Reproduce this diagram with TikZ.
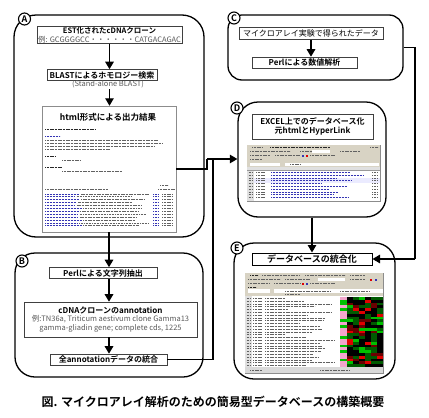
\documentclass[tikz,border=0pt]{standalone}
\usepackage{fontspec}
\setmainfont{Noto Sans CJK JP}[BoldFont={Noto Sans CJK JP Bold}]
\usetikzlibrary{arrows.meta}
\definecolor{txtgray}{HTML}{5A5A5A}
\definecolor{lnkblue}{HTML}{3434B4}
\definecolor{beige}{HTML}{D8D3C4}
\definecolor{hmdg}{HTML}{005A00}
\definecolor{hmg}{HTML}{00C000}
\definecolor{hmr}{HTML}{E00000}
\definecolor{hmdr}{HTML}{6A0000}
\definecolor{hmpink}{HTML}{F2A6CC}
\begin{document}
\begin{tikzpicture}[x=1pt,y=-1pt,
  outer/.style={draw, line width=1.3pt, inner sep=0pt},
  ibox/.style={draw=black!75, line width=0.6pt, fill=white, inner sep=0.5pt, align=center},
  shot/.style={draw=black!45, line width=0.5pt, fill=white, inner sep=0pt},
  lab/.style={circle, draw, line width=1.1pt, fill=white, inner sep=0pt, minimum size=12pt, font=\bfseries\fontsize{9}{9}\selectfont},
  conn/.style={line width=1.3pt},
  arr/.style={line width=1.3pt, -{Triangle[length=7.5pt,width=8.5pt]}},
  fk/.style={line width=1pt, black!62, dash pattern=on 1.1pt off 0.5pt},
  fkb/.style={line width=1pt, lnkblue, dash pattern=on 1.1pt off 0.4pt},
  fkd/.style={line width=1pt, black!85, dash pattern=on 1.1pt off 0.5pt},
  hd/.style={font=\bfseries\fontsize{8}{9.5}\selectfont},
  sm/.style={font=\fontsize{7.5}{8.8}\selectfont}
]
\useasboundingbox (0,0) rectangle (429,418);
\fill[white] (0,0) rectangle (429,418);

% ---------------- outer boxes ----------------
\node[outer, rounded corners=22pt, minimum width=190pt, minimum height=222pt] (A) at (109,126) {};
\node[outer, rounded corners=20pt, minimum width=188pt, minimum height=124pt] (B) at (109,315) {};
\node[outer, rounded corners=14pt, minimum width=175pt, minimum height=65pt] (C) at (315.5,47.5) {};
\node[outer, rounded corners=20pt, minimum width=148pt, minimum height=115pt] (D) at (312,159.5) {};
\node[outer, rounded corners=20pt, minimum width=161pt, minimum height=136pt] (E) at (314.5,311) {};

% ---------------- A ----------------
\node[ibox, sm, minimum width=145pt, minimum height=16pt] (a1) at (109.5,35)
  {\textbf{EST化されたcDNAクローン}\\\textcolor{txtgray}{例: GCGGGGCC・・・・・・CATGACAGAC}};
\node[ibox, hd, minimum width=110pt, minimum height=11pt] (a2) at (102,75) {BLASTによるホモロジー検索};
\node[sm, text=txtgray, inner sep=0.5pt] (a2s) at (108,84.5) {(Stand-alone BLAST)};
\node[shot, minimum width=134pt, minimum height=126pt] (a3) at (109,169) {};
\node[font=\bfseries\fontsize{8.5}{9}\selectfont, inner sep=0pt] (a3t) at (108,117) {html形式による出力結果};
% fake html text
\draw[fkd] (45,129) -- (95,129);
\draw[fkb] (45,136.5) -- (60,136.5);
\draw[fk] (45,140) -- (158,140);
\draw[fk] (45,143) -- (162,143);
\draw[fk] (45,146) -- (155,146);
\draw[fk] (45,149) -- (110,149);
\draw[fkd] (45,156.5) -- (55,156.5);
\draw[fk] (62,160) -- (80,160);
\draw[fkd] (45,167.5) -- (62,167.5);
\draw[fk] (62,171) -- (122,171);
\draw[fk] (160,185.5) -- (168,185.5);
\draw[fk] (45,189) -- (108,189);
\draw[fk] (158,189) -- (175,189);
\pgfmathsetseed{5}
\foreach \k in {0,...,11}{
  \pgfmathsetmacro{\yy}{194+\k*2.9}
  \pgfmathsetmacro{\lb}{74+rnd*10}
  \pgfmathsetmacro{\lg}{130+rnd*20}
  \draw[fkb] (45,\yy) -- (\lb,\yy);
  \draw[fk] (\lb+2,\yy) -- (\lg,\yy);
  \draw[fkb] (153,\yy) -- (158,\yy);
  \draw[fk] (162,\yy) -- (172,\yy);
}

% ---------------- B ----------------
\node[ibox, hd, minimum width=108pt, minimum height=11pt] (b1) at (103,273) {Perlによる文字列抽出};
\node[ibox, sm, minimum width=173pt, minimum height=35pt] (b2) at (110.5,319.5)
  {\textbf{\fontsize{8}{9.5}\selectfont cDNAクローンのannotation}\\\textcolor{txtgray}{例:TN36a, Triticum aestivum clone Gamma13}\\\textcolor{txtgray}{gamma-gliadin gene; complete cds, 1225}};
\node[ibox, hd, minimum width=117pt, minimum height=11pt] (b3) at (108.5,359.5) {全annotationデータの統合};

% ---------------- C ----------------
\node[ibox, font=\fontsize{8}{9.5}\selectfont, minimum width=144pt, minimum height=12pt] (c1) at (311,33.5) {マイクロアレイ実験で得られたデータ};
\node[ibox, hd, minimum width=105pt, minimum height=11pt] (c2) at (304.5,62.5) {Perlによる数値解析};

% ---------------- D ----------------
\node[ibox, hd, minimum width=121pt, minimum height=25pt] (d1) at (312.5,126.5) {EXCEL上でのデータベース化\\元htmlとHyperLink};
\node[shot, minimum width=133pt, minimum height=56pt] (d2) at (313.5,173) {};
\fill[beige] (247.3,145.3) rectangle (379.7,167);
\draw[fk] (252,147.5) -- (262,147.5);
\draw[fkd] (270,147.5) -- (330,147.5);
\draw[fk] (370,147.5) -- (378,147.5);
\draw[fk] (250,151.5) -- (290,151.5);
\draw[fk] (300,151.5) -- (312,151.5);
\fill[white] (312,150.3) rectangle (330,152.7);
\draw[fk] (340,151.5) -- (360,151.5);
\draw[fk] (250,155.5) -- (270,155.5);
\draw[fk] (275,155.5) -- (300,155.5);
\fill[lnkblue] (302,154.5) rectangle ++(2,2);
\fill[hmr] (306,154.5) rectangle ++(2,2);
\draw[fk] (310,155.5) -- (335,155.5);
\draw[fk] (250,159.5) -- (262,159.5);
\fill[white] (250,162.5) rectangle (280,166);
\fill[white] (285,162.5) rectangle (379,166);
\draw[fk] (290,164.2) -- (300,164.2);
\fill[black!12] (247.3,167) rectangle (379.7,170);
\fill[black!12] (247.3,167) rectangle (253.5,200.7);
\fill[blue!8] (253.5,177.6) rectangle (379.7,183);
\draw[black!40, line width=0.3pt] (247.3,170) -- (379.7,170);
\pgfmathsetseed{11}
\foreach \k in {0,...,9}{
  \pgfmathsetmacro{\yy}{172.5+\k*2.8}
  \pgfmathsetmacro{\lb}{320+rnd*45}
  \draw[fk] (248.5,\yy) -- (252.5,\yy);
  \draw[fk] (256,\yy) -- (265,\yy);
  \draw[fkb] (271,\yy) -- (\lb,\yy);
  \draw[fk] (372,\yy) -- (378,\yy);
}

% ---------------- E ----------------
\node[ibox, draw=black, line width=1pt, font=\bfseries\fontsize{9}{10}\selectfont, minimum width=120pt, minimum height=12pt] (e1) at (312,259) {データベースの統合化};
\node[shot, minimum width=138pt, minimum height=100pt] (e2) at (314,323) {};
\fill[beige] (245.3,273.3) rectangle (382.7,296);
\draw[fkd] (250,275.5) -- (258,275.5);
\draw[fk] (262,275.5) -- (300,275.5);
\draw[fk] (305,275.5) -- (345,275.5);
\draw[fk] (350,275.5) -- (365,275.5);
\draw[fk] (248,279.5) -- (280,279.5);
\draw[fk] (285,279.5) -- (310,279.5);
\fill[white] (318,278.3) rectangle (345,280.7);
\draw[fk] (350,279.5) -- (365,279.5);
\fill[hmr] (370,278.5) rectangle ++(2,2);
\fill[lnkblue] (375,278.5) rectangle ++(2,2);
\draw[fk] (248,283.5) -- (270,283.5);
\draw[fk] (274,283.5) -- (300,283.5);
\fill[hmr] (302,282.5) rectangle ++(2,2);
\fill[lnkblue] (306,282.5) rectangle ++(2,2);
\draw[fk] (310,283.5) -- (335,283.5);
\draw[fkd] (248,287) -- (256,287);
\fill[white] (248,289) rectangle (270,293);
\fill[white] (274,289) rectangle (382.7,293);
\draw[fk] (285,291) -- (330,291);
\draw[fk] (340,291) -- (370,291);
\draw[fk] (285,294.5) -- (300,294.5);
\fill[black!12] (245.3,296) rectangle (251.5,369.5);
\pgfmathsetseed{23}
\foreach \k in {0,...,24}{
  \pgfmathsetmacro{\yy}{298.5+\k*2.8}
  \pgfmathsetmacro{\lb}{285+rnd*50}
  \draw[fk] (246.5,\yy) -- (250.5,\yy);
  \draw[fk] (253,\yy) -- (262,\yy);
  \draw[fk] (265,\yy) -- (\lb,\yy);
}
% pink column and heat map
\fill[hmpink] (340,297) rectangle (347,367);
\pgfmathsetseed{12}
\foreach \i in {0,...,24}{
  \pgfmathrandominteger{\rv}{1}{10}
  \ifnum\rv>8 \fill[hmg] (340,{297+2.8*\i}) rectangle ++(7,2.8);\fi
  \foreach \j in {0,...,5}{
    \pgfmathrandominteger{\rv}{1}{10}
    \ifcase\rv\or\def\hc{black}\or\def\hc{black}\or\def\hc{black}\or\def\hc{black}\or\def\hc{hmdg}\or\def\hc{hmdg}\or\def\hc{hmdg}\or\def\hc{hmg}\or\def\hc{hmr}\or\def\hc{hmdr}\fi
    \fill[\hc] ({347+6*\j},{297+2.8*\i}) rectangle ++(6,2.8);
  }
}
\fill[black!15] (245.3,367) rectangle (382.7,372.7);
\draw[fk] (250,370) -- (262,370);
\draw[fk] (320,370) -- (350,370);

% ---------------- labels ----------------
\node[lab] (la) at (24.5,19) {A};
\node[lab] (lb) at (22,261) {B};
\node[lab] (lc) at (234,18) {C};
\node[lab] (ld) at (237,108) {D};
\node[lab] (le) at (237,248) {E};

% ---------------- connectors ----------------
\coordinate (j1) at (207,159);
\coordinate (j2) at (213,159);
\coordinate (j3) at (415,259);
\draw[arr] (a1.south) -- (a1.south |- a2.north);
\draw[arr] (a1.south |- a2s.south) -- (a1.south |- a3.north);
\draw[arr] (a3.south) -- (a3.south |- b1.north);
\draw[arr] (a3.south |- b1.south) -- (a3.south |- b2.north);
\draw[arr] (a3.south |- b2.south) -- (a3.south |- b3.north);
\draw[arr] (c1.south) -- (c1.south |- c2.north);
\draw[conn] (a3.east) -| (j1);
\draw[arr] (j1) -- (j1 -| D.west);
\draw[conn] (b3.east) -| (j2);
\draw[conn] (C.east) -| (j3);
\draw[arr] (j3) -- (e1.east);
\draw[arr] (D.south) -- (D.south |- e1.north);

% ---------------- caption ----------------
\node[font=\bfseries\fontsize{12}{14}\selectfont] (cap) at (213,402) {図. マイクロアレイ解析のための簡易型データベースの構築概要};
\end{tikzpicture}
\end{document}
